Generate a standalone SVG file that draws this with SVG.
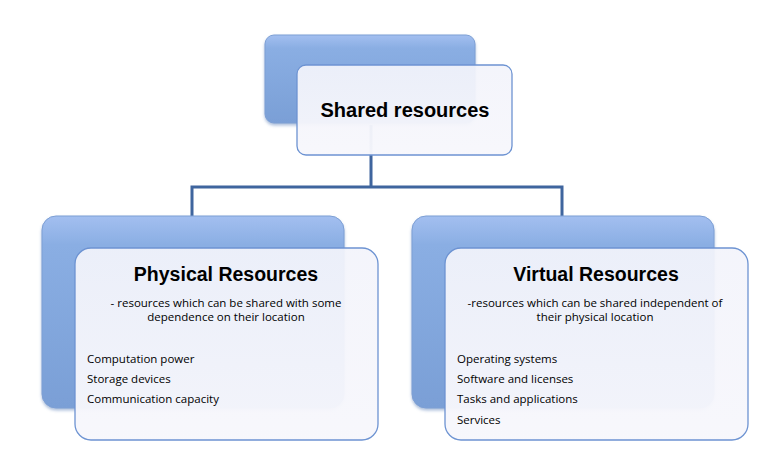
<svg xmlns="http://www.w3.org/2000/svg" width="769" height="475" viewBox="0 0 769 475">
<defs>
<linearGradient id="blueG" x1="0" y1="0" x2="0" y2="1">
<stop offset="0" stop-color="#a3bff0"/>
<stop offset="0.15" stop-color="#8aaee3"/>
<stop offset="1" stop-color="#7a9fd6"/>
</linearGradient>
<linearGradient id="whiteG" x1="0" y1="0" x2="0" y2="1">
<stop offset="0" stop-color="#f3f4fb" stop-opacity="0.93"/>
<stop offset="1" stop-color="#f7f7fc" stop-opacity="0.97"/>
</linearGradient>
<filter id="sh" x="-5%" y="-5%" width="110%" height="115%">
<feGaussianBlur in="SourceAlpha" stdDeviation="1.5"/>
<feOffset dx="0" dy="1.5" result="b"/>
<feFlood flood-color="#5a7fb8" flood-opacity="0.5"/>
<feComposite in2="b" operator="in"/>
<feMerge><feMergeNode/><feMergeNode in="SourceGraphic"/></feMerge>
</filter>
</defs>
<style>
.back{fill:url(#blueG);stroke:#7d9fd4;stroke-width:1}
.front{fill:url(#whiteG);stroke:#6d93d2;stroke-width:1.3}
.conn{fill:none;stroke:#3f659e;stroke-width:3}
.title{font-family:"Liberation Sans",Arial,sans-serif;font-weight:bold;fill:#000;text-anchor:middle}
.sub{font-family:"Open Sans","Liberation Sans",sans-serif;font-size:11.5px;fill:#000;text-anchor:middle}
.item{font-family:"Open Sans","Liberation Sans",sans-serif;font-size:11.5px;fill:#000}
</style>
<rect width="769" height="475" fill="#ffffff"/>
<g id="connectors">
<path class="conn" d="M371,125 V187 M192,217 V187 H562 V217"/>
</g>
<g id="shared">
<rect class="back" x="265" y="35" width="210" height="88" rx="9" filter="url(#sh)"/>
<rect class="front" x="297" y="65" width="215" height="90" rx="9"/>
<text class="title" x="405" y="117" font-size="20">Shared resources</text>
</g>
<g id="physical">
<rect class="back" x="42" y="216" width="302" height="192" rx="14" filter="url(#sh)"/>
<rect class="front" x="75" y="248" width="303" height="192" rx="16"/>
<text class="title" x="226" y="281" font-size="19.5">Physical Resources</text>
<text class="sub" x="226" y="307">- resources which can be shared with some</text>
<text class="sub" x="226" y="321">dependence  on their location</text>
<text class="item" x="87" y="363">Computation power</text>
<text class="item" x="87" y="383">Storage devices</text>
<text class="item" x="87" y="403">Communication capacity</text>
</g>
<g id="virtual">
<rect class="back" x="412" y="216" width="302" height="192" rx="14" filter="url(#sh)"/>
<rect class="front" x="445" y="248" width="303" height="192" rx="16"/>
<text class="title" x="596" y="281" font-size="19.5">Virtual Resources</text>
<text class="sub" x="595" y="307">-resources which can be shared independent of</text>
<text class="sub" x="595" y="321">their physical location</text>
<text class="item" x="457" y="363">Operating systems</text>
<text class="item" x="457" y="383">Software and licenses</text>
<text class="item" x="457" y="403">Tasks and applications</text>
<text class="item" x="457" y="424">Services</text>
</g>
</svg>
